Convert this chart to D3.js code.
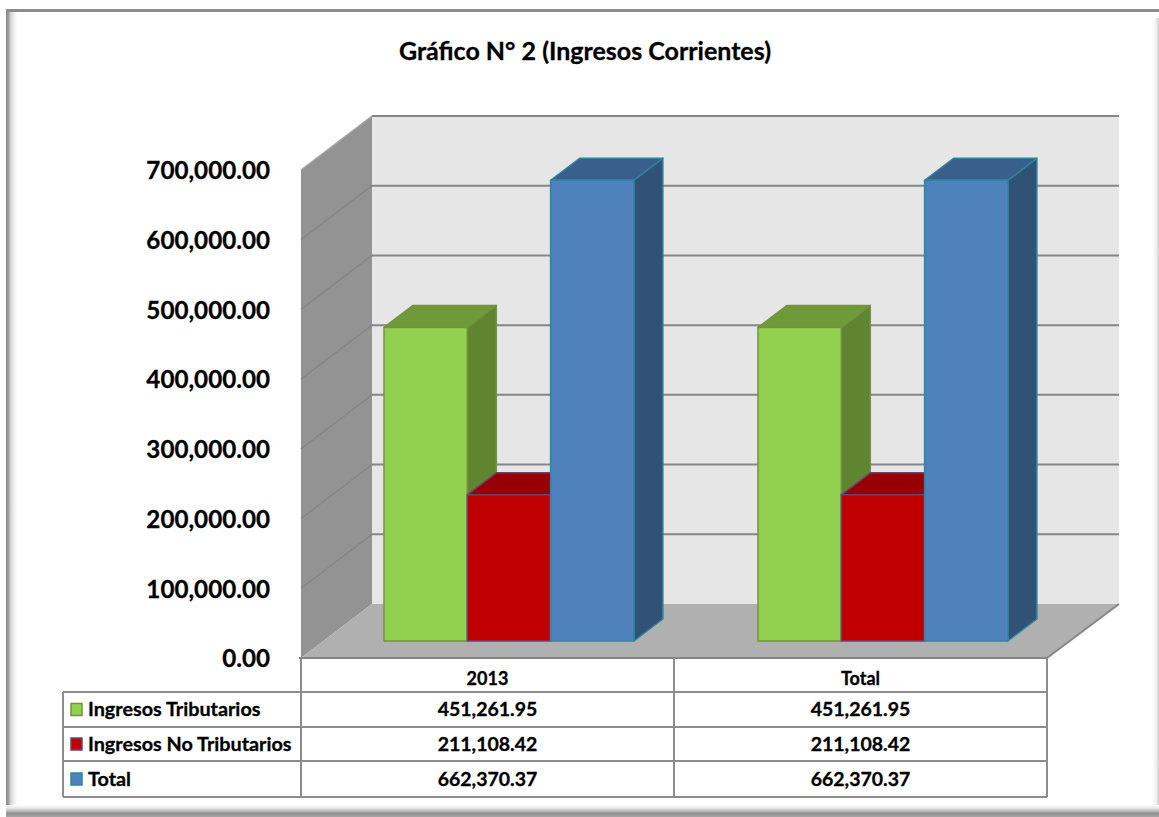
<!DOCTYPE html>
<html>
<head>
<meta charset="utf-8">
<script src="https://cdn.jsdelivr.net/npm/d3@7"></script>
<style>
  html, body { margin: 0; padding: 0; background: #fff; }
  text { font-family: Lato, sans-serif; font-weight: 700; fill: #000; stroke: #000; stroke-width: 0.3px; }
</style>
</head>
<body>
<div id="chart"></div>
<script>
var chartTitle = "Gráfico N° 2 (Ingresos Corrientes)";
var categories = ["2013", "Total"];
var seriesNames = ["Ingresos Tributarios", "Ingresos No Tributarios", "Total"];
var tributarios = [451261.95, 451261.95];
var noTributarios = [211108.42, 211108.42];
var totales = [662370.37, 662370.37];
var yTicks = [0, 100000, 200000, 300000, 400000, 500000, 600000, 700000];

var colors = [
  { front: "#92d050", top: "#6f9a3a", side: "#5f8530", stroke: "#76933c" },
  { front: "#c00000", top: "#960000", side: "#7a0000", stroke: "#71406f" },
  { front: "#4f81bd", top: "#3b5f8c", side: "#315277", stroke: "#31859c" }
];
var values = [tributarios, noTributarios, totales];

var width = 1159, height = 817;
var svg = d3.select("#chart").append("svg")
  .attr("width", width)
  .attr("height", height)
  .style("display", "block");

// soft frame: a gradient for each side
var defs = svg.append("defs");
function gradient(id, x2, y2, stops) {
  var g = defs.append("linearGradient").attr("id", id)
    .attr("x1", 0).attr("y1", 0).attr("x2", x2).attr("y2", y2);
  stops.forEach(function(s) {
    g.append("stop").attr("offset", s[0]).attr("stop-color", s[1]);
  });
}
gradient("frameLeft", 1, 0, [[0, "#8c8c8c"], [0.2, "#9a9a9a"], [0.45, "#d8d8d8"], [1, "#ffffff"]]);
gradient("frameRight", 1, 0, [[0, "#ffffff"], [0.6, "#f0f0f0"], [1, "#cfcfcf"]]);
gradient("frameBottom", 0, 1, [[0, "#ffffff"], [0.25, "#e8e8e8"], [0.55, "#b0b0b0"], [0.7, "#8e8e8e"], [1, "#a6a6a6"]]);

svg.append("rect").attr("x", 6).attr("y", 10).attr("width", 11).attr("height", 803).attr("fill", "url(#frameLeft)");
svg.append("rect").attr("x", 1152).attr("y", 18).attr("width", 7).attr("height", 790).attr("fill", "url(#frameRight)");
svg.append("rect").attr("x", 6).attr("y", 805).attr("width", 1153).attr("height", 12).attr("fill", "url(#frameBottom)");
svg.append("rect").attr("x", 6).attr("y", 9).attr("width", 1153).attr("height", 3).attr("fill", "#8c8c8c");

svg.append("text").attr("x", 585).attr("y", 60).attr("text-anchor", "middle")
  .style("font-size", "25px").text(chartTitle);

// plot geometry: front plane of the floor, and the depth of the box
var plotLeft = 301, plotRight = 1047, baseY = 658, topY = 170;
var depthX = 71, depthY = 54;

var x = d3.scaleBand().domain(categories).range([plotLeft, plotRight]);
var y = d3.scaleLinear().domain([0, 700000]).range([baseY, topY]);
var gridColor = "#868686";

function poly(points, fill, stroke, sw) {
  return svg.append("polygon")
    .attr("points", points.map(function(p) { return p.join(","); }).join(" "))
    .attr("fill", fill)
    .attr("stroke", stroke || "none")
    .attr("stroke-width", sw || 0)
    .attr("stroke-linejoin", "round");
}

// back wall, side wall, floor
poly([[plotLeft + depthX, topY - depthY], [1119, topY - depthY], [1119, baseY - depthY], [plotLeft + depthX, baseY - depthY]], "#e6e6e6");
poly([[plotLeft, topY], [plotLeft + depthX, topY - depthY], [plotLeft + depthX, baseY - depthY], [plotLeft, baseY]], "#939393");
poly([[plotLeft, baseY], [plotLeft + depthX, baseY - depthY], [1119, baseY - depthY], [plotRight, baseY]], "#b0b0b0");

yTicks.forEach(function(t) {
  var yy = y(t);
  if (t > 0) {
    svg.append("line").attr("x1", plotLeft).attr("y1", yy)
      .attr("x2", plotLeft + depthX).attr("y2", yy - depthY)
      .attr("stroke", t === 700000 ? "#a6a6a6" : "#868686").attr("stroke-width", 1.5);
    svg.append("line").attr("x1", plotLeft + depthX).attr("y1", yy - depthY)
      .attr("x2", 1119).attr("y2", yy - depthY)
      .attr("stroke", gridColor).attr("stroke-width", 2);
  }
});
svg.append("line").attr("x1", plotLeft - 2).attr("y1", baseY).attr("x2", plotRight).attr("y2", baseY)
  .attr("stroke", gridColor).attr("stroke-width", 2);
svg.append("line").attr("x1", plotRight).attr("y1", baseY).attr("x2", 1119).attr("y2", baseY - depthY)
  .attr("stroke", gridColor).attr("stroke-width", 2);

// y axis labels
var yAxis = d3.axisLeft(y).tickValues(yTicks).tickSize(0).tickPadding(0)
  .tickFormat(d3.format(",.2f"));
var yG = svg.append("g").attr("transform", "translate(270,0)").call(yAxis);
yG.select(".domain").remove();
yG.selectAll("text").style("font-size", "24.2px").style("font-family", "Lato, sans-serif")
  .attr("dy", "0.36em");

// bars
var barW = 83.3, barDX = 23, barDY = 17, boxX = 29, boxY = 22;
var barStart = 60;

categories.forEach(function(cat, c) {
  var x0 = x(cat) + barStart + barDX + c;
  values.forEach(function(vals, s) {
    var l = x0 + s * barW, r = l + barW;
    var tt = y(vals[c]) - barDY + 1, bb = y(0) - barDY;
    var col = colors[s];
    poly([[r, tt], [r + boxX, tt - boxY], [r + boxX, bb - boxY], [r, bb]], col.side, col.stroke, 1.5);
    poly([[l, tt], [l + boxX, tt - boxY], [r + boxX, tt - boxY], [r, tt]], col.top, col.stroke, 1.5);
    poly([[l, tt], [r, tt], [r, bb], [l, bb]], col.front, col.stroke, 1.5);
  });
});

// data table under the plot
var rowY = [692, 727, 761, 797];
var tableLeft = 63;
var tableColor = "#8c8c8c";
function tableLine(x1, y1, x2, y2) {
  svg.append("line").attr("x1", x1).attr("y1", y1).attr("x2", x2).attr("y2", y2)
    .attr("stroke", tableColor).attr("stroke-width", 2);
}
rowY.forEach(function(yy) { tableLine(tableLeft, yy, plotRight, yy); });
tableLine(tableLeft, rowY[0], tableLeft, rowY[3]);
tableLine(plotLeft, baseY, plotLeft, rowY[3]);
tableLine(x("Total"), baseY, x("Total"), rowY[3]);
tableLine(plotRight, baseY, plotRight, rowY[3]);

categories.forEach(function(cat) {
  svg.append("text").attr("x", x(cat) + x.bandwidth() / 2).attr("y", 685)
    .attr("text-anchor", "middle").style("font-size", "18px").text(cat);
});

var fmt = d3.format(",.2f");
seriesNames.forEach(function(name, s) {
  var ty = (rowY[s] + rowY[s + 1]) / 2;
  svg.append("rect").attr("x", 71).attr("y", ty - 6).attr("width", 11).attr("height", 12)
    .attr("fill", colors[s].front).attr("stroke", colors[s].stroke).attr("stroke-width", 1.5);
  svg.append("text").attr("x", 88).attr("y", ty + 6.5).style("font-size", "19.8px").text(name);
  categories.forEach(function(cat, c) {
    svg.append("text").attr("x", x(cat) + x.bandwidth() / 2).attr("y", ty + 6.5)
      .attr("text-anchor", "middle").style("font-size", "19.5px").text(fmt(values[s][c]));
  });
});
</script>
</body>
</html>
